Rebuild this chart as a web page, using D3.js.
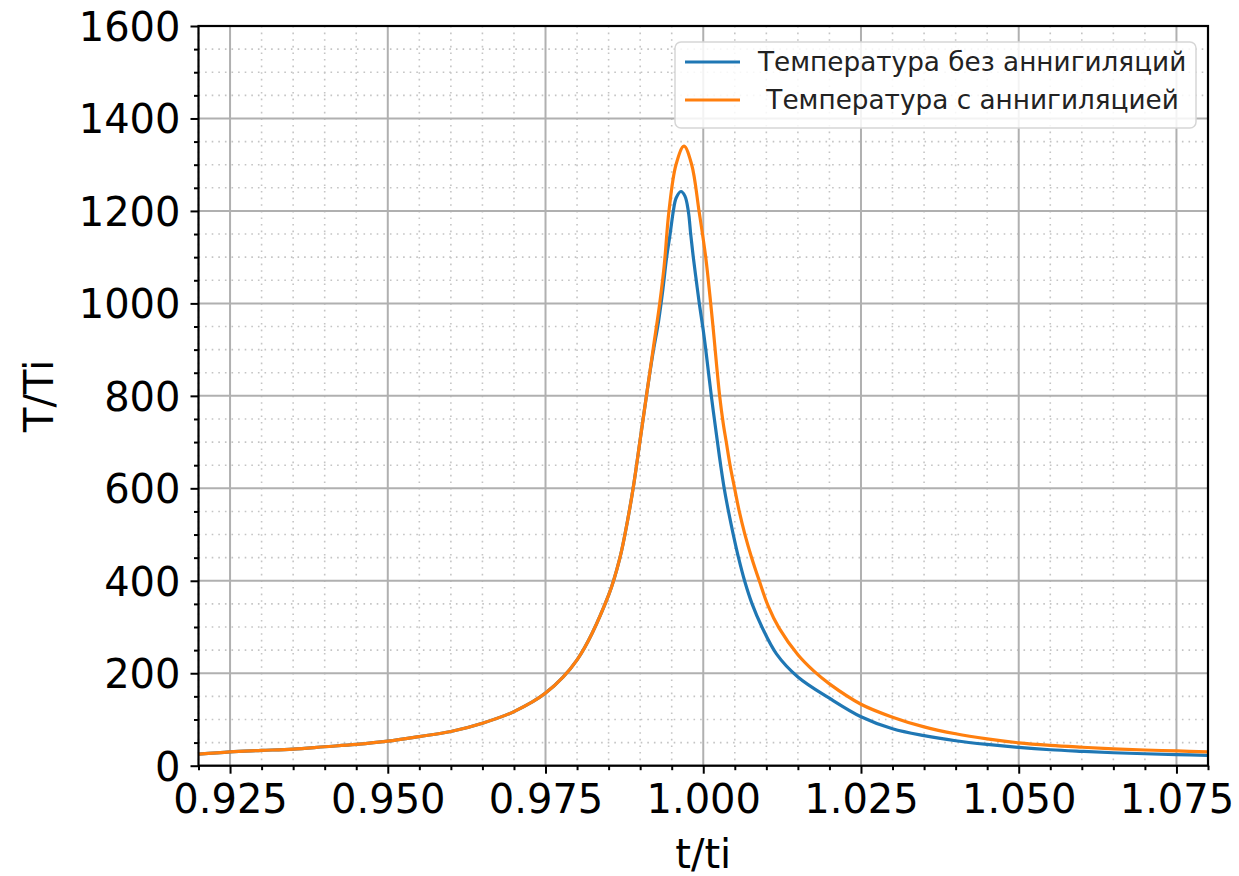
<!DOCTYPE html>
<html>
<head>
<meta charset="utf-8">
<script src="https://cdnjs.cloudflare.com/ajax/libs/d3/7.8.5/d3.min.js"></script>
<style>
  body { margin: 0; background: #fff; }
  svg { font-family: "DejaVu Sans", sans-serif; }
  .legend text { white-space: pre; }
</style>
</head>
<body>
<div id="chart"></div>
<script>
// values
var tNoAnn = [0.920, 0.925, 0.930, 0.935, 0.940, 0.945, 0.950, 0.955, 0.960, 0.965, 0.970, 0.975,
    0.980, 0.985, 0.9868, 0.9880, 0.9890, 0.9900, 0.9911, 0.9920, 0.9929, 0.9936, 0.9942,
    0.99475, 0.99526, 0.9957, 0.99647, 0.9971, 0.99763, 0.99801, 0.99842, 0.99889, 0.99937,
    1.0000, 1.0004, 1.00128, 1.00225, 1.00276, 1.00332, 1.00400, 1.00476, 1.00559, 1.00655,
    1.00774, 1.00930, 1.0116, 1.0150, 1.0200, 1.0250, 1.0300, 1.0350, 1.0400, 1.0450, 1.0500,
    1.0550, 1.0600, 1.0650, 1.0700, 1.0750, 1.0800];
var tempNoAnn = [25, 30, 33, 36, 41, 46, 53, 63, 74, 92, 117, 157,
    229, 369, 450, 530, 610, 705, 810, 890, 960, 1030, 1100,
    1150, 1200, 1228, 1242, 1232, 1200, 1150, 1100, 1050, 1000,
    942, 900, 800, 700, 650, 600, 550, 500, 450, 400,
    350, 300, 242, 192, 146, 106, 80, 65, 54, 46, 39.5,
    34.5, 31, 28, 25.8, 24, 22.5];

var tAnn = [0.920, 0.925, 0.930, 0.935, 0.940, 0.945, 0.950, 0.955, 0.960, 0.965, 0.970, 0.975,
    0.980, 0.985, 0.9868, 0.9880, 0.9890, 0.9900, 0.9911, 0.9921, 0.9931, 0.9938, 0.99457,
    0.99568, 0.99695, 0.99817, 0.99933, 1.00039, 1.00118, 1.0016, 1.0026, 1.00315, 1.00365,
    1.00425, 1.00497, 1.00571, 1.00661, 1.00767, 1.00888, 1.0103, 1.0120, 1.0150,
    1.0175, 1.0200, 1.0250, 1.0300, 1.0350, 1.0400, 1.0450, 1.0500, 1.0550, 1.0600, 1.0650,
    1.0700, 1.0750, 1.0800];
var tempAnn = [25, 30, 33, 36, 41, 46, 53, 63, 74, 92, 117, 157,
    229, 369, 450, 530, 610, 705, 810, 905, 1000, 1080, 1200,
    1300, 1340, 1300, 1200, 1100, 1000, 942, 800, 742, 700,
    650, 600, 550, 500, 450, 400, 345, 298, 240,
    205, 177, 133, 105, 84, 69, 58, 49.5, 44, 40, 36.5,
    34, 32, 30];

var xTicks = [0.925, 0.950, 0.975, 1.000, 1.025, 1.050, 1.075];
var yTicks = [0, 200, 400, 600, 800, 1000, 1200, 1400, 1600];
var seriesNames = ["Температура без аннигиляций", " Температура с аннигиляцией"];
var seriesColors = ["#1f77b4", "#ff7f0e"];

var width = 1239, height = 876;
// plot box (avoid the name "top", it is window.top)
var pLeft = 198.5, pRight = 1208, pTop = 26, pBottom = 765.7;

var svg = d3.select("#chart").append("svg")
    .attr("width", width)
    .attr("height", height);

var x = d3.scaleLinear().domain([0.92, 1.08]).range([pLeft, pRight]);
var y = d3.scaleLinear().domain([0, 1600]).range([pBottom, pTop]);

// minor grid (dotted)
var xMinor = d3.range(0.92, 1.0801, 0.005).filter(function (d) {
    return Math.abs(Math.round(d / 0.025) * 0.025 - d) > 1e-6;
});
var yMinor = d3.range(0, 1601, 50).filter(function (d) { return d % 200 != 0; });

var grid = svg.append("g");
grid.selectAll(".xminor").data(xMinor).enter().append("line")
    .attr("x1", function (d) { return x(d); }).attr("x2", function (d) { return x(d); })
    .attr("y1", pTop).attr("y2", pBottom)
    .style("stroke", "#c4c4c4").style("stroke-width", 1.6).style("stroke-dasharray", "1.6,5");
grid.selectAll(".yminor").data(yMinor).enter().append("line")
    .attr("x1", pLeft).attr("x2", pRight)
    .attr("y1", function (d) { return y(d); }).attr("y2", function (d) { return y(d); })
    .style("stroke", "#c4c4c4").style("stroke-width", 1.6).style("stroke-dasharray", "1.6,5");

// major grid
grid.selectAll(".xmajor").data(xTicks).enter().append("line")
    .attr("x1", function (d) { return x(d); }).attr("x2", function (d) { return x(d); })
    .attr("y1", pTop).attr("y2", pBottom)
    .style("stroke", "#b0b0b0").style("stroke-width", 2);
grid.selectAll(".ymajor").data(yTicks).enter().append("line")
    .attr("x1", pLeft).attr("x2", pRight)
    .attr("y1", function (d) { return y(d); }).attr("y2", function (d) { return y(d); })
    .style("stroke", "#b0b0b0").style("stroke-width", 2);

// curves
var series = [
    { name: seriesNames[0], color: seriesColors[0], t: tNoAnn, v: tempNoAnn },
    { name: seriesNames[1], color: seriesColors[1], t: tAnn, v: tempAnn }
];
var line = d3.line()
    .x(function (d) { return x(d[0]); })
    .y(function (d) { return y(d[1]); })
    .curve(d3.curveCatmullRom.alpha(0.5));

svg.append("defs").append("clipPath").attr("id", "clip")
    .append("rect").attr("x", pLeft).attr("y", pTop)
    .attr("width", pRight - pLeft).attr("height", pBottom - pTop);

svg.append("g").attr("clip-path", "url(#clip)")
    .selectAll("path").data(series).enter().append("path")
    .attr("d", function (s) { return line(d3.zip(s.t, s.v)); })
    .style("fill", "none")
    .style("stroke", function (s) { return s.color; })
    .style("stroke-width", 3.2)
    .style("stroke-linejoin", "round");

// axes
var xMinorTicks = svg.append("g").attr("transform", "translate(0," + pBottom + ")")
    .call(d3.axisBottom(x).tickValues(xMinor).tickSize(4.5).tickFormat(""));
var yMinorTicks = svg.append("g").attr("transform", "translate(" + pLeft + ",0)")
    .call(d3.axisLeft(y).tickValues(yMinor).tickSize(4.5).tickFormat(""));

var xAxis = svg.append("g").attr("transform", "translate(0," + pBottom + ")")
    .call(d3.axisBottom(x).tickValues(xTicks).tickSize(8).tickPadding(11)
        .tickFormat(d3.format(".3f")));
var yAxis = svg.append("g").attr("transform", "translate(" + pLeft + ",0)")
    .call(d3.axisLeft(y).tickValues(yTicks).tickSize(8).tickPadding(10)
        .tickFormat(d3.format("d")));

[xMinorTicks, yMinorTicks, xAxis, yAxis].forEach(function (g) {
    g.select(".domain").remove();
    g.selectAll(".tick line").style("stroke", "#000").style("stroke-width", 2);
    g.selectAll("text").style("font-family", "DejaVu Sans").style("font-size", "40px").style("fill", "#000");
});
yAxis.selectAll("text").attr("dy", "0.36em");

// frame
svg.append("rect").attr("x", pLeft).attr("y", pTop)
    .attr("width", pRight - pLeft).attr("height", pBottom - pTop)
    .style("fill", "none").style("stroke", "#000").style("stroke-width", 2.2);

// axis labels
svg.append("text").attr("x", (pLeft + pRight) / 2).attr("y", 868)
    .attr("text-anchor", "middle").style("font-size", "40px").text("t/ti");
svg.append("text").attr("transform", "translate(53," + ((pTop + pBottom) / 2) + ") rotate(-90)")
    .attr("text-anchor", "middle").style("font-size", "40px").text("T/Ti");

// legend
var legend = svg.append("g").attr("class", "legend");
legend.append("rect").attr("x", 675).attr("y", 42).attr("width", 521).attr("height", 86)
    .attr("rx", 6).style("fill", "#fff").style("fill-opacity", 0.85)
    .style("stroke", "#d6d6d6").style("stroke-width", 1.5);
var item = legend.selectAll(".item").data(series).enter().append("g")
    .attr("transform", function (d, i) { return "translate(0," + (62 + i * 38) + ")"; });
item.append("line").attr("x1", 685).attr("x2", 740)
    .style("stroke", function (d) { return d.color; }).style("stroke-width", 3.2);
item.append("text").attr("x", 758).attr("dy", "0.36em")
    .style("font-size", "26.3px").style("fill", "#222")
    .text(function (d) { return d.name; });
</script>
</body>
</html>
